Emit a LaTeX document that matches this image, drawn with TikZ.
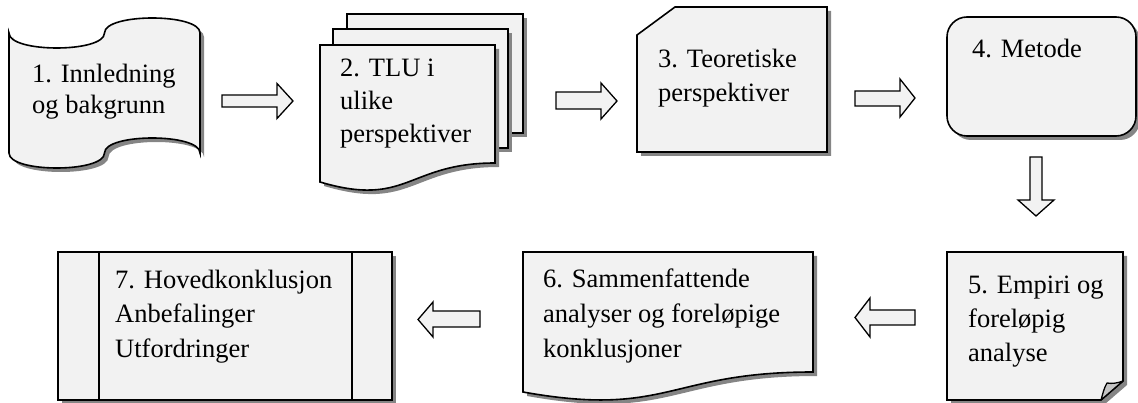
\documentclass[tikz,border=0pt]{standalone}
\usepackage{fontspec}
\setmainfont{Liberation Serif}
\usetikzlibrary{shadows}
\definecolor{boxfill}{HTML}{F2F2F2}
\definecolor{shadowgray}{HTML}{858585}
\definecolor{foldgray}{HTML}{C4C4C4}
\begin{document}
\begin{tikzpicture}[x=1pt,y=-1pt,
  shapebox/.style={draw=black, line width=1.6pt, fill=boxfill, line join=miter,
    drop shadow={shadow xshift=4pt, shadow yshift=-4pt, fill=shadowgray, opacity=1}},
  blockarrow/.style={draw=black, line width=1.3pt, fill=boxfill, line join=miter},
  lbl/.style={anchor=base west, align=left, inner sep=0pt},
  lblfont/.style={font=\fontsize{26.5}{#1}\selectfont},
]
\useasboundingbox (0,0) rectangle (1138,403);

% 1. punched tape
\path[shapebox] (9,33) .. controls (9,53) and (104.5,53) .. (104.5,33)
  .. controls (104.5,13) and (200,13) .. (200,33) -- (200,153)
  .. controls (200,133) and (104.5,133) .. (104.5,153)
  .. controls (104.5,173) and (9,173) .. (9,153) -- cycle;
\node[lbl, lblfont=31] (t1) at (32,114) {1. Innledning\\og bakgrunn};

% 2. multidocument
\path[shapebox] (347,14) rectangle (523,133);
\path[shapebox] (333,29) rectangle (508,148);
\path[shapebox] (320,45) -- (495,45) -- (495,163)
  .. controls (407.5,163) and (407.5,208) .. (320,182) -- cycle;
\node[lbl, lblfont=33] (t2) at (340,143) {2. TLU i\\ulike\\perspektiver};

% 3. card
\path[shapebox] (637,35) -- (675,7) -- (827,7) -- (827,152) -- (637,152) -- cycle;
\node[lbl, lblfont=34] (t3) at (658,102) {3. Teoretiske\\perspektiver};

% 4. rounded rectangle
\path[shapebox, rounded corners=20pt] (947,17) rectangle (1136,136);
\node[lbl, lblfont=34] (t4) at (972,58) {4. Metode};

% 5. folded corner
\path[shapebox] (947,252) -- (1123,252) -- (1123,381) -- (1101,400) -- (947,400) -- cycle;
\path[draw=black, line width=1.3pt, fill=foldgray, line join=round]
  (1101,400) .. controls (1103,393) and (1104,388) .. (1107,383)
  .. controls (1112,384) and (1118,383) .. (1123,381) -- cycle;
\node[lbl, lblfont=34] (t5) at (968,361) {5. Empiri og\\foreløpig\\analyse};

% 6. document
\path[shapebox] (523,252) -- (813,252) -- (813,372)
  .. controls (668,372) and (668,418) .. (523,392) -- cycle;
\node[lbl, lblfont=35] (t6) at (543,357) {6. Sammenfattende\\analyser og foreløpige\\konklusjoner};

% 7. predefined process
\path[shapebox] (58,252) rectangle (392,400);
\draw[line width=1.6pt] (99,252) -- (99,400) (352,252) -- (352,400);
\node[lbl, lblfont=34.5] (t7) at (115,357) {7. Hovedkonklusjon\\Anbefalinger\\Utfordringer};

% block arrows
\path[blockarrow] (222,95) -- (277,95) -- (277,83.5) -- (293,101) -- (277,118.5) -- (277,107) -- (222,107) -- cycle;
\path[blockarrow] (556,92) -- (601,92) -- (601,83) -- (617,101) -- (601,119) -- (601,109) -- (556,109) -- cycle;
\path[blockarrow] (855,91) -- (900,91) -- (900,79) -- (915,98) -- (900,117) -- (900,106) -- (855,106) -- cycle;
\path[blockarrow] (1030,157) -- (1030,200) -- (1018,200) -- (1036,216) -- (1054,200) -- (1042,200) -- (1042,157) -- cycle;
\path[blockarrow] (915,310) -- (870,310) -- (870,298) -- (855,317.5) -- (870,337) -- (870,325) -- (915,325) -- cycle;
\path[blockarrow] (480,311) -- (433,311) -- (433,302) -- (418,319.5) -- (433,337) -- (433,327) -- (480,327) -- cycle;
\end{tikzpicture}
\end{document}
